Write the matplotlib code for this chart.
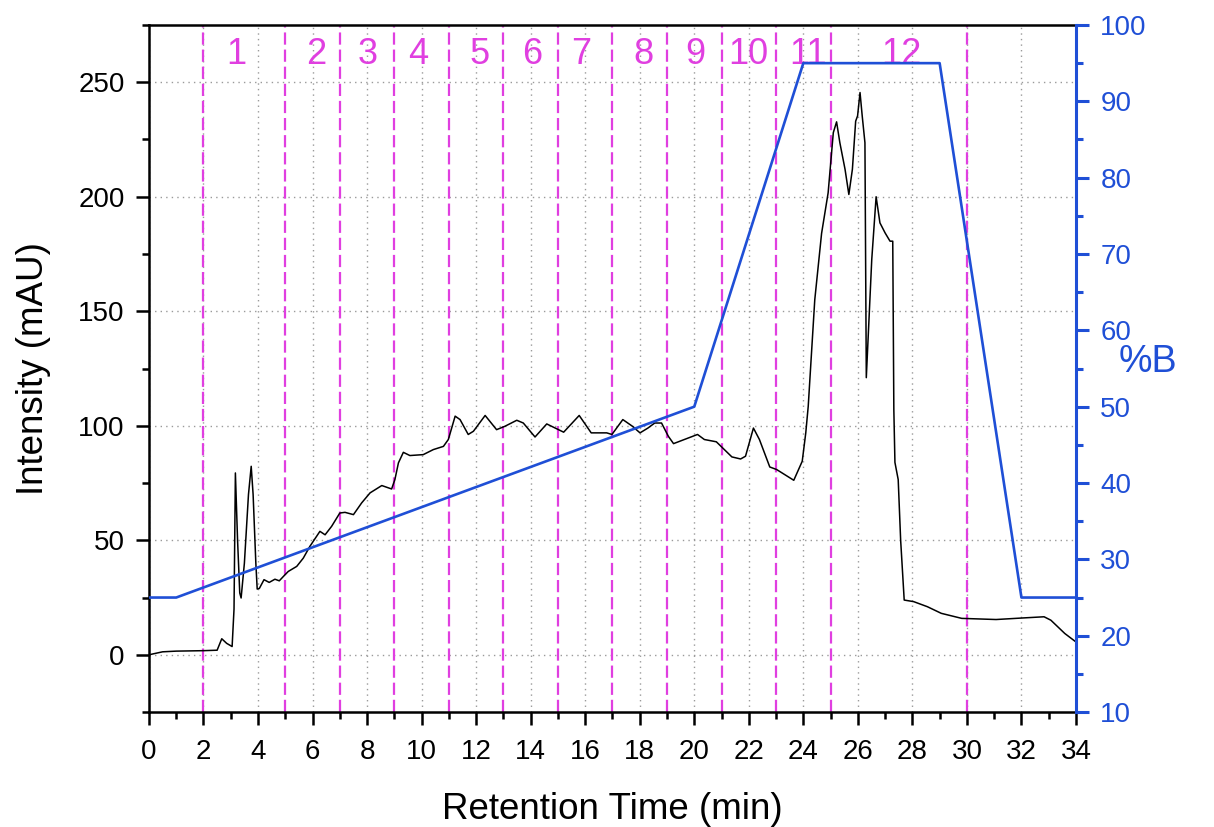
import matplotlib
matplotlib.use("Agg")
import matplotlib.pyplot as plt
from matplotlib.ticker import MultipleLocator

plt.rcParams['font.family'] = ['Liberation Sans', 'DejaVu Sans']

# Chromatogram (Retention time in min, intensity in mAU)
time_min = [0.0, 0.5, 1.0, 2.0, 2.5, 2.67, 2.85, 3.05, 3.12, 3.17, 3.25, 3.33, 3.38, 3.5, 3.65,
            3.75, 3.82, 3.92, 3.97, 4.05, 4.22, 4.41, 4.62, 4.78, 4.93, 5.11, 5.42, 5.66, 5.9,
            6.27, 6.46, 6.70, 7.0, 7.19, 7.5, 7.8, 8.11, 8.54, 8.9, 9.02, 9.15, 9.33, 9.57,
            10.06, 10.43, 10.8, 10.98, 11.23, 11.41, 11.71, 11.9, 12.33, 12.75, 13.06, 13.49,
            13.73, 14.16, 14.59, 15.21, 15.78, 16.22, 16.79, 16.98, 17.38, 17.73, 18.01, 18.30,
            18.55, 18.80, 19.05, 19.24, 20.12, 20.37, 20.81, 21.38, 21.70, 21.88, 22.17, 22.39,
            22.77, 23.02, 23.65, 23.96, 24.09, 24.18, 24.42, 24.67, 24.91, 25.10, 25.22, 25.34,
            25.53, 25.67, 25.80, 25.92, 25.99, 26.08, 26.16, 26.26, 26.31, 26.51, 26.67, 26.81,
            27.0, 27.18, 27.28, 27.32, 27.36, 27.48, 27.57, 27.70, 28.05, 28.55, 29.06, 29.81,
            31.07, 32.08, 32.83, 33.08, 33.59, 34.0]
intensity = [0.0, 1.3, 1.6, 1.8, 2.0, 7.0, 5.0, 3.6, 20.0, 79.4, 50.0, 27.0, 24.8, 40.0, 70.0,
             82.3, 70.0, 40.0, 28.7, 29.0, 32.8, 31.6, 33.0, 32.3, 34.2, 36.4, 38.6, 42.2, 47.3,
             53.9, 52.4, 56.1, 61.9, 62.2, 61.2, 66.3, 70.7, 73.9, 72.4, 76.5, 83.8, 88.4, 87.0,
             87.4, 89.6, 91.0, 94.0, 104.2, 102.7, 96.2, 97.6, 104.5, 98.3, 99.8, 102.4,
             101.2, 95.1, 100.8, 97.2, 104.5, 96.9, 96.9, 96.2, 102.7, 99.8, 96.9, 99.0,
             101.2, 101.2, 95.4, 92.2, 96.2, 94.0, 93.0, 86.4, 85.5, 86.7, 99.0, 94.0,
             82.0, 80.9, 76.2, 84.5, 96.9, 108.5, 155.0, 184.0, 201.7, 228.0, 232.7, 223.6,
             212.0, 201.0, 212.0, 233.0, 235.3, 245.5, 235.3, 223.6, 121.0, 172.6, 200.0, 188.6,
             184.2, 180.6, 180.6, 107.0, 84.0, 76.5, 50.0, 23.9, 23.2, 21.0, 18.1, 15.9,
             15.4, 16.1, 16.6, 15.1, 9.3, 5.6]

# Gradient program (%B)
grad_time = [0, 1, 20, 24, 29, 32, 34]
grad_B = [25, 25, 50, 95, 95, 25, 25]

# Fraction boundaries and labels
fraction_bounds = [2, 5, 7, 9, 11, 13, 15, 17, 19, 21, 23, 25, 30]
fraction_labels = ['1', '2', '3', '4', '5', '6', '7', '8', '9', '10', '11', '12']
fraction_label_x = [3.2, 6.15, 8.03, 9.87, 12.14, 14.04, 15.85, 18.15, 20.04, 22.0, 24.16, 27.6]

PINK = '#E03FE0'
BLUE = '#1F4FD6'

fig = plt.figure(figsize=(12.14, 8.27), dpi=100)
ax = fig.add_axes([0.1227, 0.139, 0.7636, 0.8308])
ax2 = ax.twinx()

ax.set_xlim(0, 34)
ax.set_ylim(-25, 275)
ax2.set_ylim(10, 100)

ax.grid(True, which='major', color='#9a9a9a', linestyle=(0, (1, 3)), linewidth=1.0)
ax.set_axisbelow(True)

for xb in fraction_bounds:
    ln = ax.axvline(xb, color=PINK, linewidth=1.6, zorder=2)
    ln.set_dashes([5.5, 2.2])

for lab, lx in zip(fraction_labels, fraction_label_x):
    ax.text(lx, 262, lab, color=PINK, fontsize=26, ha='center', va='center', zorder=3)

ax.plot(time_min, intensity, color='black', linewidth=1.1, zorder=4)
ax2.plot(grad_time, grad_B, color=BLUE, linewidth=1.9)

ax.xaxis.set_major_locator(MultipleLocator(2))
ax.xaxis.set_minor_locator(MultipleLocator(1))
ax.yaxis.set_major_locator(MultipleLocator(50))
ax.yaxis.set_minor_locator(MultipleLocator(25))
ax2.yaxis.set_major_locator(MultipleLocator(10))
ax2.yaxis.set_minor_locator(MultipleLocator(5))

for s in ['left', 'bottom', 'top']:
    ax.spines[s].set_linewidth(1.8)
ax.spines['right'].set_visible(False)
for s in ['left', 'bottom', 'top']:
    ax2.spines[s].set_visible(False)
ax2.spines['right'].set_color(BLUE)
ax2.spines['right'].set_linewidth(2.2)

ax.tick_params(axis='both', which='major', direction='out', length=9.5, width=1.8, labelsize=20)
ax.tick_params(axis='both', which='minor', direction='out', length=5, width=1.8)
ax.tick_params(axis='x', which='major', pad=10)
ax.tick_params(axis='y', which='major', pad=8)
ax.tick_params(axis='x', which='both', top=False)
ax2.tick_params(axis='y', which='major', direction='out', length=9.5, width=2.2, labelsize=20,
                colors=BLUE, pad=8)
ax2.tick_params(axis='y', which='minor', direction='out', length=5, width=2.2, colors=BLUE)

ax.set_xlabel('Retention Time (min)', fontsize=26.5)
ax.set_ylabel('Intensity (mAU)', fontsize=26.5)
ax.xaxis.set_label_coords(0.5, -0.116)
ax.yaxis.set_label_coords(-0.106, 0.5)
ax2.set_ylabel('%B', fontsize=27, color=BLUE, rotation=0, va='center', ha='center')
ax2.yaxis.set_label_coords(1.078, 0.51)

fig.savefig('out.png', dpi=100)
